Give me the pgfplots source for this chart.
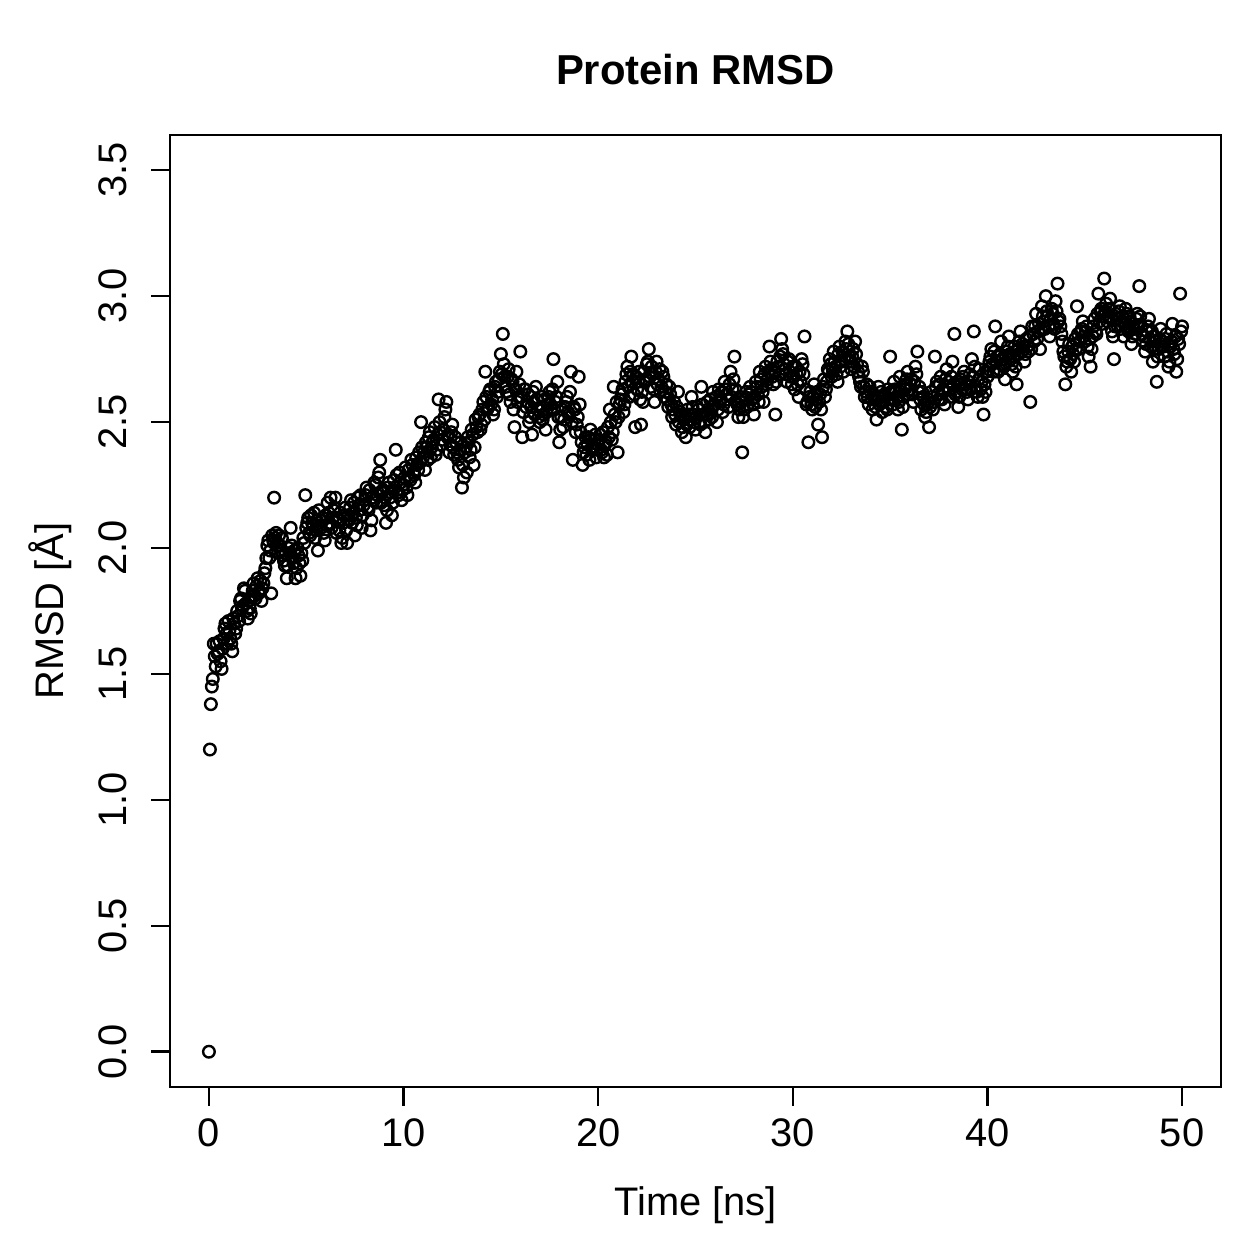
\documentclass[border=0pt]{standalone}
\usepackage{pgfplots}
\pgfplotsset{compat=1.18}
\usepackage{fontspec}
\setmainfont{Liberation Sans}

\begin{document}
\begin{tikzpicture}
\useasboundingbox (0,0) rectangle (1259bp,1259bp);
\begin{axis}[
  at={(170bp,172bp)}, anchor=south west,
  scale only axis, width=1051bp, height=952bp,
  xmin=-2, xmax=52, ymin=-0.14, ymax=3.64,
  axis line style={line width=2.5bp},
  every tick/.style={black, line width=2.5bp},
  major tick length=19bp,
  tick align=outside,
  xtick pos=bottom, ytick pos=left,
  xtick={0,10,20,30,40,50},
  xticklabels={0,10,20,30,40,50},
  ytick={0,0.5,1,1.5,2,2.5,3,3.5},
  yticklabels={0.0,0.5,1.0,1.5,2.0,2.5,3.0,3.5},
  /pgf/number format/assume math mode=true,
  tick label style={font=\fontsize{40}{48}\selectfont, inner sep=0pt},
  xticklabel style={anchor=north, yshift=-12bp},
  yticklabel style={rotate=90, anchor=south, yshift=24bp},
  clip=false,
  rmsd/.style={only marks, mark=o, mark size=5.8bp, mark options={line width=2.4bp, black}},
]
% frames on the 0.1 ns grid
\addplot[rmsd] coordinates {
(0.00,0.00) (0.05,1.20) (0.10,1.38) (0.15,1.45) (0.20,1.48) (0.25,1.62) (0.30,1.57) (0.35,1.53) (0.40,1.62)
(0.5,1.59) (0.6,1.55) (0.7,1.60) (0.8,1.68) (0.9,1.66) (1.0,1.71) (1.1,1.64) (1.2,1.59) (1.3,1.70) (1.4,1.68)
(1.5,1.73) (1.6,1.79) (1.7,1.76) (1.8,1.84) (1.9,1.78) (2.0,1.72) (2.1,1.76) (2.2,1.81) (2.3,1.86) (2.4,1.80)
(2.5,1.88) (2.6,1.83) (2.7,1.79) (2.8,1.86) (2.9,1.92) (3.0,2.01) (3.1,1.96) (3.2,1.82) (3.3,2.03) (3.35,2.20)
(3.4,2.04) (3.5,2.02) (3.6,2.05) (3.7,1.99) (3.8,1.97) (3.9,1.93) (4.0,1.88) (4.1,2.00) (4.2,2.08) (4.3,1.96)
(4.4,1.99) (4.5,1.92) (4.6,1.97) (4.7,1.89) (4.8,1.95) (4.9,2.02) (4.95,2.21) (5.0,2.08) (5.1,2.12) (5.2,2.05)
(5.3,2.10) (5.4,2.14) (5.5,2.07) (5.6,1.99) (5.7,2.09) (5.8,2.11) (5.9,2.06) (6.0,2.13) (6.1,2.18) (6.2,2.10)
(6.3,2.08) (6.4,2.15) (6.5,2.20) (6.6,2.12) (6.7,2.07) (6.8,2.02) (6.9,2.10) (7.0,2.16) (7.1,2.02) (7.2,2.11)
(7.3,2.19) (7.4,2.14) (7.5,2.05) (7.6,2.09) (7.7,2.17) (7.8,2.21) (7.9,2.13) (8.0,2.19) (8.1,2.24) (8.2,2.15)
(8.3,2.07) (8.4,2.20) (8.5,2.26) (8.6,2.18) (8.7,2.28) (8.8,2.35) (8.9,2.22) (9.0,2.17) (9.1,2.10) (9.2,2.24)
(9.3,2.20) (9.4,2.13) (9.5,2.27) (9.6,2.39) (9.7,2.22) (9.8,2.30) (9.9,2.19) (10.0,2.25) (10.1,2.32) (10.2,2.21)
(10.3,2.28) (10.4,2.35) (10.5,2.30) (10.6,2.26) (10.7,2.33) (10.8,2.38) (10.9,2.50) (11.0,2.36) (11.1,2.31) (11.2,2.40)
(11.3,2.44) (11.4,2.36) (11.5,2.42) (11.6,2.48) (11.7,2.39) (11.8,2.59) (11.9,2.46) (12.0,2.43) (12.1,2.52) (12.2,2.58)
(12.3,2.45) (12.4,2.41) (12.5,2.49) (12.6,2.37) (12.7,2.42) (12.8,2.35) (12.9,2.39) (13.0,2.24) (13.1,2.28) (13.2,2.40)
(13.3,2.44) (13.4,2.36) (13.5,2.47) (13.6,2.33) (13.7,2.51) (13.8,2.46) (13.9,2.53) (14.0,2.49) (14.1,2.58) (14.2,2.70)
(14.3,2.55) (14.4,2.62) (14.5,2.57) (14.6,2.53) (14.7,2.64) (14.8,2.60) (14.9,2.67) (15.0,2.77) (15.1,2.85) (15.2,2.68)
(15.3,2.62) (15.4,2.71) (15.5,2.58) (15.6,2.66) (15.7,2.48) (15.8,2.70) (15.9,2.60) (16.0,2.78) (16.1,2.44) (16.2,2.63)
(16.3,2.56) (16.4,2.61) (16.5,2.52) (16.6,2.45) (16.7,2.58) (16.8,2.64) (16.9,2.55) (17.0,2.50) (17.1,2.60) (17.2,2.53)
(17.3,2.47) (17.4,2.57) (17.5,2.62) (17.6,2.55) (17.7,2.75) (17.8,2.58) (17.9,2.66) (18.0,2.42) (18.1,2.52) (18.2,2.48)
(18.3,2.56) (18.4,2.60) (18.5,2.53) (18.6,2.70) (18.7,2.35) (18.8,2.55) (18.9,2.49) (19.0,2.68) (19.1,2.46) (19.2,2.33)
(19.3,2.40) (19.4,2.37) (19.5,2.44) (19.6,2.47) (19.7,2.39) (19.8,2.43) (19.9,2.36) (20.0,2.41) (20.1,2.45) (20.2,2.38)
(20.3,2.36) (20.4,2.42) (20.5,2.48) (20.6,2.55) (20.7,2.43) (20.8,2.64) (20.9,2.50) (21.0,2.38) (21.1,2.57) (21.2,2.61)
(21.3,2.54) (21.4,2.66) (21.5,2.72) (21.6,2.60) (21.7,2.76) (21.8,2.69) (21.9,2.48) (22.0,2.63) (22.1,2.70) (22.2,2.49)
(22.3,2.58) (22.4,2.66) (22.5,2.73) (22.6,2.79) (22.7,2.64) (22.8,2.69) (22.9,2.58) (23.0,2.74) (23.1,2.67) (23.2,2.62)
(23.3,2.70) (23.4,2.60) (23.5,2.65) (23.6,2.56) (23.7,2.61) (23.8,2.52) (23.9,2.58) (24.0,2.49) (24.1,2.62) (24.2,2.54)
(24.3,2.46) (24.4,2.51) (24.5,2.44) (24.6,2.55) (24.7,2.48) (24.8,2.60) (24.9,2.53) (25.0,2.47) (25.1,2.56) (25.2,2.50)
(25.3,2.64) (25.4,2.53) (25.5,2.46) (25.6,2.58) (25.7,2.51) (25.8,2.55) (25.9,2.62) (26.0,2.57) (26.1,2.50) (26.2,2.63)
(26.3,2.59) (26.4,2.54) (26.5,2.66) (26.6,2.61) (26.7,2.56) (26.8,2.70) (26.9,2.63) (27.0,2.76) (27.1,2.58) (27.2,2.52)
(27.3,2.60) (27.4,2.38) (27.5,2.55) (27.6,2.62) (27.7,2.57) (27.8,2.64) (27.9,2.59) (28.0,2.53) (28.1,2.66) (28.2,2.61)
(28.3,2.70) (28.4,2.64) (28.5,2.58) (28.6,2.72) (28.7,2.67) (28.8,2.80) (28.9,2.71) (29.0,2.65) (29.1,2.53) (29.2,2.74)
(29.3,2.69) (29.4,2.83) (29.5,2.77) (29.6,2.71) (29.7,2.66) (29.8,2.75) (29.9,2.68) (30.0,2.72) (30.1,2.63) (30.2,2.69)
(30.3,2.60) (30.4,2.66) (30.5,2.73) (30.6,2.84) (30.7,2.57) (30.8,2.42) (30.9,2.62) (31.0,2.55) (31.1,2.65) (31.2,2.59)
(31.3,2.49) (31.4,2.61) (31.5,2.44) (31.6,2.67) (31.7,2.63) (31.8,2.71) (31.9,2.75) (32.0,2.68) (32.1,2.78) (32.2,2.72)
(32.3,2.66) (32.4,2.80) (32.5,2.74) (32.6,2.70) (32.7,2.82) (32.8,2.86) (32.9,2.76) (33.0,2.71) (33.1,2.79) (33.2,2.82)
(33.3,2.73) (33.4,2.68) (33.5,2.64) (33.6,2.70) (33.7,2.60) (33.8,2.65) (33.9,2.57) (34.0,2.62) (34.1,2.55) (34.2,2.59)
(34.3,2.51) (34.4,2.64) (34.5,2.58) (34.6,2.54) (34.7,2.61) (34.8,2.56) (34.9,2.63) (35.0,2.76) (35.1,2.59) (35.2,2.66)
(35.3,2.62) (35.4,2.55) (35.5,2.68) (35.6,2.47) (35.7,2.60) (35.8,2.65) (35.9,2.70) (36.0,2.63) (36.1,2.67) (36.2,2.58)
(36.3,2.72) (36.4,2.78) (36.5,2.64) (36.6,2.55) (36.7,2.60) (36.8,2.52) (36.9,2.57) (37.0,2.48) (37.1,2.62) (37.2,2.55)
(37.3,2.76) (37.4,2.66) (37.5,2.59) (37.6,2.68) (37.7,2.63) (37.8,2.57) (37.9,2.71) (38.0,2.66) (38.1,2.60) (38.2,2.74)
(38.3,2.85) (38.4,2.62) (38.5,2.56) (38.6,2.67) (38.7,2.63) (38.8,2.70) (38.9,2.65) (39.0,2.59) (39.1,2.69) (39.2,2.75)
(39.3,2.86) (39.4,2.64) (39.5,2.60) (39.6,2.71) (39.7,2.66) (39.8,2.53) (39.9,2.62) (40.0,2.68) (40.1,2.74) (40.2,2.79)
(40.3,2.70) (40.4,2.88) (40.5,2.76) (40.6,2.71) (40.7,2.82) (40.8,2.73) (40.9,2.67) (41.0,2.78) (41.1,2.84) (41.2,2.75)
(41.3,2.70) (41.4,2.80) (41.5,2.65) (41.6,2.77) (41.7,2.86) (41.8,2.81) (41.9,2.74) (42.0,2.83) (42.1,2.78) (42.2,2.58)
(42.3,2.88) (42.4,2.82) (42.5,2.93) (42.6,2.86) (42.7,2.79) (42.8,2.96) (42.9,2.90) (43.0,3.00) (43.1,2.92) (43.2,2.84)
(43.3,2.95) (43.4,2.89) (43.5,2.98) (43.6,3.05) (43.7,2.91) (43.8,2.85) (43.9,2.78) (44.0,2.65) (44.1,2.74) (44.2,2.81)
(44.3,2.70) (44.4,2.77) (44.5,2.83) (44.6,2.96) (44.7,2.79) (44.8,2.86) (44.9,2.90) (45.0,2.82) (45.1,2.88) (45.2,2.76)
(45.3,2.72) (45.4,2.84) (45.5,2.91) (45.6,2.85) (45.7,3.01) (45.8,2.94) (45.9,2.89) (46.0,3.07) (46.1,2.97) (46.2,2.92)
(46.3,2.99) (46.4,2.86) (46.5,2.75) (46.6,2.93) (46.7,2.88) (46.8,2.96) (46.9,2.90) (47.0,2.84) (47.1,2.95) (47.2,2.87)
(47.3,2.92) (47.4,2.81) (47.5,2.89) (47.6,2.85) (47.7,2.93) (47.8,3.04) (47.9,2.88) (48.0,2.82) (48.1,2.78) (48.2,2.86)
(48.3,2.91) (48.4,2.80) (48.5,2.74) (48.6,2.84) (48.7,2.66) (48.8,2.79) (48.9,2.87) (49.0,2.82) (49.1,2.76) (49.2,2.85)
(49.3,2.72) (49.4,2.80) (49.5,2.89) (49.6,2.77) (49.7,2.70) (49.8,2.83) (49.9,3.01) (50.0,2.88)
};
% frames between them
\addplot[rmsd] coordinates {
(0.45,1.58) (0.55,1.63) (0.65,1.52) (0.75,1.64) (0.85,1.70) (0.95,1.62)
(1.05,1.67) (1.15,1.62) (1.25,1.72) (1.35,1.66) (1.45,1.75) (1.55,1.71) (1.65,1.80) (1.75,1.77) (1.85,1.83) (1.95,1.75)
(2.05,1.79) (2.15,1.74) (2.25,1.83) (2.35,1.81) (2.45,1.85) (2.55,1.82) (2.65,1.87) (2.75,1.84) (2.85,1.90) (2.95,1.96)
(3.05,2.03) (3.15,1.99) (3.25,2.05) (3.35,2.02) (3.45,2.06) (3.55,1.98) (3.65,2.01) (3.75,2.04) (3.85,1.95) (3.95,1.98)
(4.05,1.93) (4.15,1.98) (4.25,2.01) (4.35,1.94) (4.45,1.88) (4.55,2.00) (4.65,1.94) (4.75,1.98) (4.85,2.04)
(5.05,2.10) (5.15,2.06) (5.25,2.13) (5.35,2.09) (5.45,2.04) (5.55,2.11) (5.65,2.15) (5.75,2.08) (5.85,2.12) (5.95,2.03)
(6.05,2.09) (6.15,2.14) (6.25,2.20) (6.35,2.12) (6.45,2.16) (6.55,2.06) (6.65,2.11) (6.75,2.14) (6.85,2.04) (6.95,2.13)
(7.05,2.07) (7.15,2.13) (7.25,2.16) (7.35,2.10) (7.45,2.18) (7.55,2.12) (7.65,2.20) (7.75,2.15) (7.85,2.08) (7.95,2.17)
(8.05,2.21) (8.15,2.16) (8.25,2.23) (8.35,2.11) (8.45,2.19) (8.55,2.25) (8.65,2.21) (8.75,2.30) (8.85,2.18) (8.95,2.23)
(9.05,2.20) (9.15,2.15) (9.25,2.26) (9.35,2.22) (9.45,2.18) (9.55,2.24) (9.65,2.29) (9.75,2.21) (9.85,2.26) (9.95,2.23)
(10.05,2.28) (10.15,2.24) (10.25,2.31) (10.35,2.27) (10.45,2.33) (10.55,2.29) (10.65,2.36) (10.75,2.31) (10.85,2.34) (10.95,2.40)
(11.05,2.38) (11.15,2.42) (11.25,2.35) (11.35,2.46) (11.45,2.40) (11.55,2.43) (11.65,2.37) (11.75,2.45) (11.85,2.50) (11.95,2.41)
(12.05,2.47) (12.15,2.55) (12.25,2.44) (12.35,2.38) (12.45,2.46) (12.55,2.40) (12.65,2.44) (12.75,2.38) (12.85,2.32) (12.95,2.42)
(13.05,2.33) (13.15,2.38) (13.25,2.30) (13.35,2.42) (13.45,2.39) (13.55,2.45) (13.65,2.40) (13.75,2.48) (13.85,2.52) (13.95,2.47)
(14.05,2.55) (14.15,2.51) (14.25,2.60) (14.35,2.56) (14.45,2.63) (14.55,2.59) (14.65,2.55) (14.75,2.66) (14.85,2.62) (14.95,2.70)
(15.05,2.69) (15.15,2.73) (15.25,2.64) (15.35,2.68) (15.45,2.61) (15.55,2.67) (15.65,2.55) (15.75,2.63) (15.85,2.58) (15.95,2.65)
(16.05,2.60) (16.15,2.54) (16.25,2.63) (16.35,2.58) (16.45,2.50) (16.55,2.56) (16.65,2.62) (16.75,2.53) (16.85,2.59) (16.95,2.52)
(17.05,2.56) (17.15,2.51) (17.25,2.59) (17.35,2.54) (17.45,2.60) (17.55,2.57) (17.65,2.63) (17.75,2.55) (17.85,2.60) (17.95,2.52)
(18.05,2.47) (18.15,2.55) (18.25,2.51) (18.35,2.58) (18.45,2.54) (18.55,2.62) (18.65,2.50) (18.75,2.56) (18.85,2.46) (18.95,2.52)
(19.05,2.57) (19.15,2.42) (19.25,2.38) (19.35,2.44) (19.45,2.41) (19.55,2.35) (19.65,2.43) (19.75,2.40) (19.85,2.45) (19.95,2.39)
(20.05,2.43) (20.15,2.39) (20.25,2.46) (20.35,2.41) (20.45,2.37) (20.55,2.44) (20.65,2.50) (20.75,2.46) (20.85,2.53) (20.95,2.58)
(21.05,2.52) (21.15,2.59) (21.25,2.63) (21.35,2.57) (21.45,2.69) (21.55,2.64) (21.65,2.70) (21.75,2.66) (21.85,2.61) (21.95,2.68)
(22.05,2.66) (22.15,2.59) (22.25,2.62) (22.35,2.70) (22.45,2.67) (22.55,2.74) (22.65,2.68) (22.75,2.72) (22.85,2.63) (22.95,2.70)
(23.05,2.65) (23.15,2.71) (23.25,2.64) (23.35,2.68) (23.45,2.62) (23.55,2.59) (23.65,2.64) (23.75,2.57) (23.85,2.55) (23.95,2.53)
(24.05,2.56) (24.15,2.50) (24.25,2.53) (24.35,2.48) (24.45,2.52) (24.55,2.49) (24.65,2.53) (24.75,2.51) (24.85,2.56) (24.95,2.50)
(25.05,2.52) (25.15,2.55) (25.25,2.49) (25.35,2.57) (25.45,2.50) (25.55,2.53) (25.65,2.55) (25.75,2.59) (25.85,2.52) (25.95,2.57)
(26.05,2.60) (26.15,2.55) (26.25,2.58) (26.35,2.62) (26.45,2.57) (26.55,2.63) (26.65,2.59) (26.75,2.65) (26.85,2.60) (26.95,2.67)
(27.05,2.63) (27.15,2.57) (27.25,2.55) (27.35,2.58) (27.45,2.52) (27.55,2.59) (27.65,2.56) (27.75,2.61) (27.85,2.62) (27.95,2.57)
(28.05,2.60) (28.15,2.64) (28.25,2.58) (28.35,2.67) (28.45,2.62) (28.55,2.69) (28.65,2.65) (28.75,2.70) (28.85,2.74) (28.95,2.68)
(29.05,2.70) (29.15,2.66) (29.25,2.72) (29.35,2.76) (29.45,2.79) (29.55,2.73) (29.65,2.69) (29.75,2.74) (29.85,2.70) (29.95,2.65)
(30.05,2.68) (30.15,2.72) (30.25,2.65) (30.35,2.70) (30.45,2.75) (30.55,2.69) (30.65,2.63) (30.75,2.58) (30.85,2.60) (30.95,2.57)
(31.05,2.60) (31.15,2.56) (31.25,2.62) (31.35,2.58) (31.45,2.55) (31.55,2.64) (31.65,2.60) (31.75,2.66) (31.85,2.70) (31.95,2.73)
(32.05,2.71) (32.15,2.74) (32.25,2.69) (32.35,2.77) (32.45,2.72) (32.55,2.78) (32.65,2.75) (32.75,2.79) (32.85,2.81) (32.95,2.74)
(33.05,2.76) (33.15,2.72) (33.25,2.77) (33.35,2.70) (33.45,2.66) (33.55,2.72) (33.65,2.64) (33.75,2.62) (33.85,2.60) (33.95,2.64)
(34.05,2.59) (34.15,2.61) (34.25,2.56) (34.35,2.60) (34.45,2.57) (34.55,2.62) (34.65,2.58) (34.75,2.60) (34.85,2.55) (34.95,2.59)
(35.05,2.62) (35.15,2.57) (35.25,2.63) (35.35,2.60) (35.45,2.58) (35.55,2.62) (35.65,2.56) (35.75,2.63) (35.85,2.67) (35.95,2.61)
(36.05,2.65) (36.15,2.61) (36.25,2.66) (36.35,2.69) (36.45,2.62) (36.55,2.59) (36.65,2.62) (36.75,2.57) (36.85,2.54) (36.95,2.59)
(37.05,2.56) (37.15,2.60) (37.25,2.58) (37.35,2.64) (37.45,2.61) (37.55,2.65) (37.65,2.59) (37.75,2.62) (37.85,2.67) (37.95,2.64)
(38.05,2.63) (38.15,2.68) (38.25,2.65) (38.35,2.61) (38.45,2.66) (38.55,2.60) (38.65,2.65) (38.75,2.68) (38.85,2.63) (38.95,2.62)
(39.05,2.66) (39.15,2.63) (39.25,2.68) (39.35,2.72) (39.45,2.62) (39.55,2.67) (39.65,2.63) (39.75,2.60) (39.85,2.65) (39.95,2.70)
(40.05,2.71) (40.15,2.76) (40.25,2.73) (40.35,2.78) (40.45,2.74) (40.55,2.70) (40.65,2.77) (40.75,2.75) (40.85,2.72) (40.95,2.76)
(41.05,2.80) (41.15,2.77) (41.25,2.73) (41.35,2.76) (41.45,2.72) (41.55,2.79) (41.65,2.82) (41.75,2.78) (41.85,2.80) (41.95,2.77)
(42.05,2.80) (42.15,2.84) (42.25,2.79) (42.35,2.85) (42.45,2.88) (42.55,2.83) (42.65,2.89) (42.75,2.87) (42.85,2.92) (42.95,2.87)
(43.05,2.94) (43.15,2.88) (43.25,2.91) (43.35,2.93) (43.45,2.87) (43.55,2.94) (43.65,2.90) (43.75,2.88) (43.85,2.82) (43.95,2.76)
(44.05,2.72) (44.15,2.78) (44.25,2.75) (44.35,2.80) (44.45,2.74) (44.55,2.79) (44.65,2.85) (44.75,2.82) (44.85,2.87) (44.95,2.84)
(45.05,2.86) (45.15,2.80) (45.25,2.83) (45.35,2.79) (45.45,2.88) (45.55,2.86) (45.65,2.93) (45.75,2.90) (45.85,2.95) (45.95,2.92)
(46.05,2.94) (46.15,2.90) (46.25,2.95) (46.35,2.91) (46.45,2.84) (46.55,2.88) (46.65,2.91) (46.75,2.94) (46.85,2.87) (46.95,2.92)
(47.05,2.89) (47.15,2.93) (47.25,2.86) (47.35,2.90) (47.45,2.84) (47.55,2.87) (47.65,2.91) (47.75,2.88) (47.85,2.92) (47.95,2.85)
(48.05,2.84) (48.15,2.81) (48.25,2.88) (48.35,2.83) (48.45,2.86) (48.55,2.79) (48.65,2.82) (48.75,2.76) (48.85,2.83) (48.95,2.80)
(49.05,2.80) (49.15,2.83) (49.25,2.78) (49.35,2.74) (49.45,2.82) (49.55,2.79) (49.65,2.84) (49.75,2.75) (49.85,2.81) (49.95,2.86)
};
% title and axis labels
\node[anchor=base, font=\bfseries\fontsize{42}{50}\selectfont] at (rel axis cs:0.5,1.0525) {Protein RMSD};
\node[anchor=base, font=\fontsize{40}{48}\selectfont] at (rel axis cs:0.5,-0.1355) {Time [ns]};
\node[rotate=90, anchor=center, font=\fontsize{40}{48}\selectfont] at (rel axis cs:-0.1142,0.5) {RMSD [Å]};
\end{axis}
\end{tikzpicture}
\end{document}
